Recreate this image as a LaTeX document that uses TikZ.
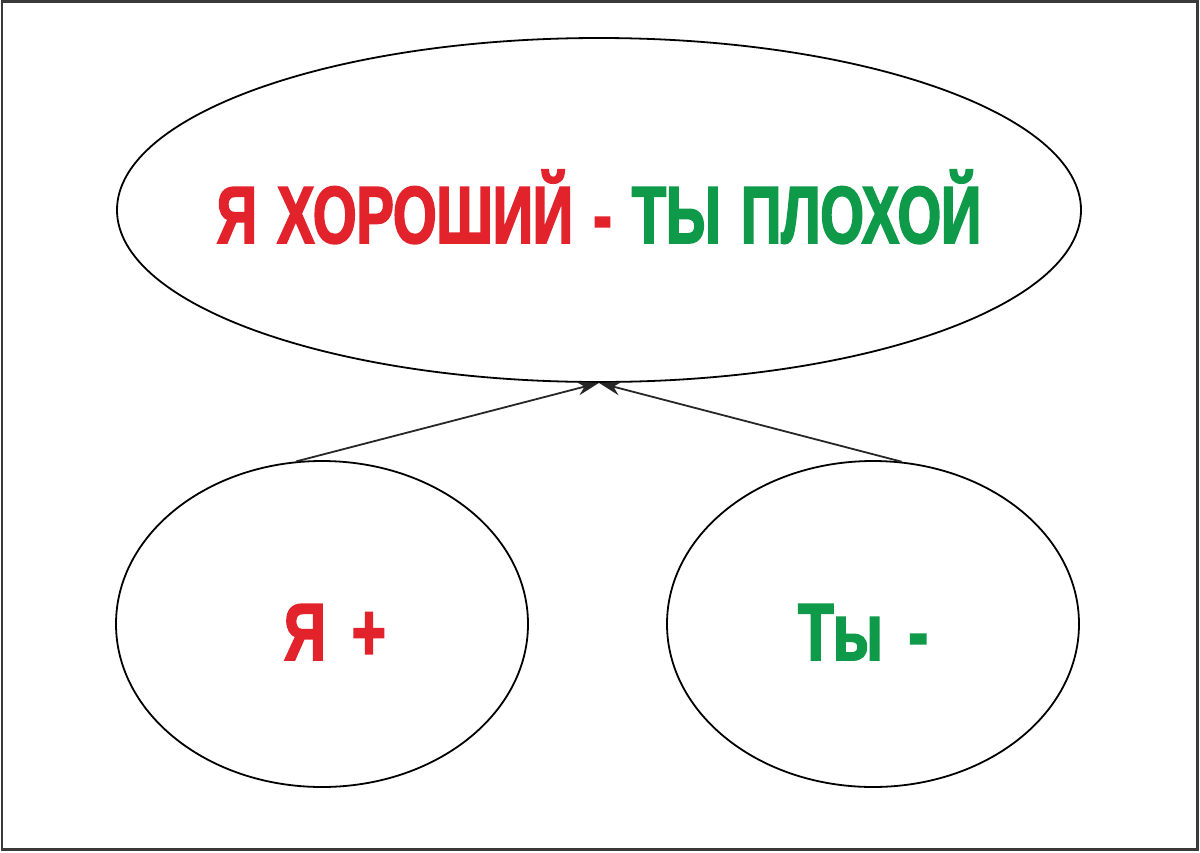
\documentclass[tikz,border=0pt]{standalone}
\usepackage{fontspec}
\usetikzlibrary{shapes.geometric,arrows.meta}
\newfontfamily\condfont[FakeStretch=0.69,FakeBold=2.2,WordSpace=1.3]{Liberation Sans Bold}
\newfontfamily\condfontb[FakeStretch=0.72,FakeBold=2.2,WordSpace=1.6]{Liberation Sans Bold}
\definecolor{myred}{HTML}{E3232C}
\definecolor{mygreen}{HTML}{0E9A48}
\definecolor{frame}{HTML}{3A3A3A}
\begin{document}
\begin{tikzpicture}[x=1pt,y=-1pt,
  oval/.style={draw=black,line width=1.8pt,ellipse,inner sep=0pt},
  lbl/.style={inner sep=0pt,anchor=base,font=\condfont\fontsize{81}{81}\selectfont},
  lblb/.style={inner sep=0pt,anchor=base,font=\condfontb\fontsize{81}{81}\selectfont},
  conn/.style={draw=black!85,line width=1.8pt,-{Stealth[length=22pt,width=14pt]}}]
\useasboundingbox (0,0) rectangle (1200,852);
\draw[frame,line width=2.2pt] (2,1.5) rectangle (1197.5,849.5);
\node[oval,minimum width=964pt,minimum height=344pt] (top) at (599,210) {};
\node[oval,minimum width=412pt,minimum height=326pt] (left) at (322,624) {};
\node[oval,minimum width=412pt,minimum height=326pt] (right) at (873,624) {};
\node[lbl] (toptext) at (599,243) {\textcolor{myred}{Я ХОРОШИЙ -} \textcolor{mygreen}{ТЫ ПЛОХОЙ}};
\node[lblb,text=myred] (ltext) at (335,660) {Я +};
\node[lblb,text=mygreen] (rtext) at (863,660) {Ты -};
\draw[conn] (left.99) -- (top.south);
\draw[conn] (right.80.5) -- (top.south);
\end{tikzpicture}
\end{document}
